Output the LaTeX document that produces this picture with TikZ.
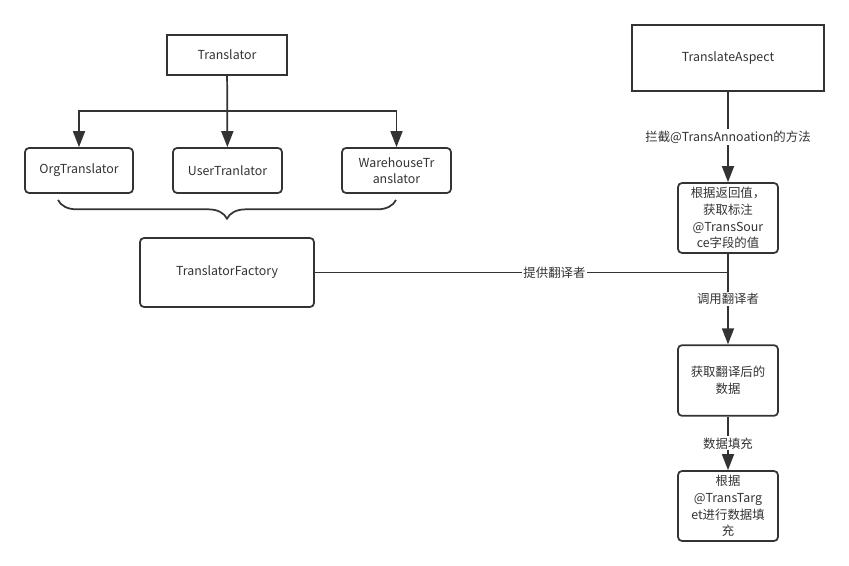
\documentclass[tikz,border=0pt]{standalone}
\usepackage{fontspec}
\setmainfont{Noto Sans CJK SC}
\usepackage{tikz}
\usetikzlibrary{positioning,arrows.meta,decorations.pathreplacing}
\definecolor{ink}{HTML}{333333}

\begin{document}
\begin{tikzpicture}[x=0.75pt, y=-0.75pt,
        box/.style={draw=ink, line width=1.3pt, text=ink, align=center, inner sep=0pt,
            font=\fontsize{9.3}{12.5}\selectfont},
        rbox/.style={box, rounded corners=3pt},
        edge/.style={draw=ink, line width=1.3pt},
        link/.style={edge, -{Triangle[length=12pt,width=9pt]}},
        lbl/.style={fill=white, text=ink, inner sep=1pt, font=\fontsize{9.3}{12}\selectfont}
    ]
        \useasboundingbox (0,0) rectangle (849,566);

        % Nodes
        \node[box, minimum width=90pt, minimum height=30pt] (trans) at (227,55) {Translator};
        \node[rbox, minimum width=81pt, minimum height=33.75pt] (org) at (79,170.5) {OrgTranslator};
        \node[rbox, minimum width=81.75pt, minimum height=33.75pt] (user) at (227.5,170.5) {UserTranlator};
        \node[rbox, minimum width=81.75pt, minimum height=33.75pt] (ware) at (396.5,170.5) {WarehouseTr\\anslator};
        \node[rbox, minimum width=130.5pt, minimum height=51.75pt] (fac) at (227,272.5) {TranslatorFactory};

        \node[box, minimum width=144pt, minimum height=49.5pt] (aspect) at (728,58) {TranslateAspect};
        \node[rbox, minimum width=75pt, minimum height=52.5pt] (source) at (728,218) {根据返回值，\\获取标注\\@TransSour\\ce字段的值};
        \node[rbox, minimum width=75pt, minimum height=53pt] (result) at (728,380.5) {获取翻译后的\\数据};
        \node[rbox, minimum width=75pt, minimum height=52.5pt] (fill) at (728,506) {根据\\@TransTarg\\et进行数据填\\充};

        \coordinate (fork) at (227,111);
        \coordinate (bl) at (58,200);
        \coordinate (br) at (396,200);

        % Edges
        \draw[link] (trans) -- (user);
        \draw[link] (fork) -| (org.north);
        \draw[link] (fork) -| (ware.north);
        \draw[edge, decorate, decoration={brace, mirror, amplitude=14pt}] (bl) -- (br);
        \draw[edge] (fac.east) -- (fac.east -| source.south) node[lbl, pos=0.58] {提供翻译者};

        \draw[link] (aspect) -- (source) node[lbl, midway] {拦截@TransAnnoation的方法};
        \draw[link] (source) -- (result) node[lbl, midway] {调用翻译者};
        \draw[link] (result) -- (fill) node[lbl, midway] {数据填充};
    \end{tikzpicture}
\end{document}
